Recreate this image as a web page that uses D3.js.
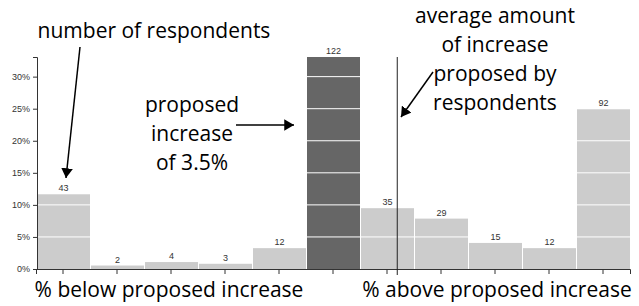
<!DOCTYPE html>
<html>
<head>
<meta charset="utf-8">
<script src="https://cdn.jsdelivr.net/npm/d3@7"></script>
<style>
  body { margin: 0; background: #fff; }
  .note { font-family: "Open Sans", sans-serif; font-size: 21px; fill: #000; }
  .axis text { font-family: "Liberation Sans", Arial, sans-serif; font-size: 9px; fill: #333; }
  .axis path, .axis line { stroke: #333; }
</style>
</head>
<body>
<div id="chart"></div>
<script>
// bins: 5 below the proposed increase, the proposed 3.5%, 5 above it
const bins = ["b5", "b4", "b3", "b2", "b1", "proposed", "a1", "a2", "a3", "a4", "a5"];
const counts = [43, 2, 4, 3, 12, 122, 35, 29, 15, 12, 92];
const yTicks = [0, 0.05, 0.10, 0.15, 0.20, 0.25, 0.30];
const avgBin = 6.69; // average proposed increase, in bin units from the left edge

const total = d3.sum(counts);
const shares = counts.map(c => c / total);

const width = 639, height = 306;
const margin = {left: 36, right: 9, top: 57, bottom: 37};

const svg = d3.select("#chart").append("svg")
    .attr("width", width)
    .attr("height", height);

const x = d3.scaleBand()
    .domain(bins)
    .range([margin.left, width - margin.right]);

const xPos = d3.scaleLinear()
    .domain([0, bins.length])
    .range([margin.left, width - margin.right]);

const y = d3.scaleLinear()
    .domain([0, d3.max(shares)])
    .range([height - margin.bottom, margin.top]);

// bars
svg.append("g")
   .selectAll("rect")
   .data(bins)
   .join("rect")
    .attr("x", d => x(d) + 1)
    .attr("y", (d, i) => y(shares[i]))
    .attr("width", x.bandwidth() - 1)
    .attr("height", (d, i) => y(0) - y(shares[i]))
    .attr("fill", d => d == "proposed" ? "#666" : "#ccc");

// white grid lines through the bars
svg.append("g")
   .selectAll("line")
   .data(yTicks.slice(1))
   .join("line")
    .attr("x1", margin.left)
    .attr("x2", width - margin.right)
    .attr("y1", d => y(d))
    .attr("y2", d => y(d))
    .attr("stroke", "#fff")
    .attr("stroke-width", 1);

// counts on top
svg.append("g")
   .selectAll("text")
   .data(bins)
   .join("text")
    .attr("x", d => x(d) + x.bandwidth() / 2 + 0.5)
    .attr("y", (d, i) => y(shares[i]) - 3)
    .attr("text-anchor", "middle")
    .style("font-family", "Liberation Sans, Arial, sans-serif")
    .style("font-size", "9px")
    .style("fill", "#333")
    .text((d, i) => counts[i]);

// axes
svg.append("g")
    .attr("class", "axis")
    .attr("transform", "translate(" + (margin.left + 1) + ",0)")
    .call(d3.axisLeft(y).tickValues(yTicks).tickFormat(d3.format(".0%")).tickSize(4));

svg.append("g")
    .attr("class", "axis")
    .attr("transform", "translate(0," + (height - margin.bottom) + ")")
    .call(d3.axisBottom(x).tickFormat("").tickSize(5));

// average line
svg.append("line")
    .attr("x1", xPos(avgBin))
    .attr("x2", xPos(avgBin))
    .attr("y1", margin.top)
    .attr("y2", height - margin.bottom + 6)
    .attr("stroke", "#222")
    .attr("stroke-width", 1);

// arrows
svg.append("defs").append("marker")
    .attr("id", "head")
    .attr("viewBox", "0 0 10 12")
    .attr("refX", 10)
    .attr("refY", 6)
    .attr("markerWidth", 6.5)
    .attr("markerHeight", 7.8)
    .attr("markerUnits", "strokeWidth")
    .attr("orient", "auto")
  .append("path")
    .attr("d", "M0,0L10,6L0,12Z")
    .attr("fill", "#000");

const arrows = [
    [80, 47, 66, 178],
    [236, 125, 294, 125],
    [433, 72, 401, 117]
];
svg.append("g")
   .selectAll("line")
   .data(arrows)
   .join("line")
    .attr("x1", d => d[0])
    .attr("y1", d => d[1])
    .attr("x2", d => d[2])
    .attr("y2", d => d[3])
    .attr("stroke", "#000")
    .attr("stroke-width", 1.5)
    .attr("marker-end", "url(#head)");

// annotations
function note(lines, cx, y0, step){
    let t = svg.append("text")
        .attr("class", "note")
        .attr("text-anchor", "middle");
    lines.forEach((l, i) => {
        t.append("tspan").attr("x", cx).attr("y", y0 + i * step).text(l);
    });
}
note(["number of respondents"], 154, 38, 0);
note(["proposed", "increase", "of 3.5%"], 192, 112, 29);
note(["average amount", "of increase", "proposed by", "respondents"], 495, 23, 29);
note(["% below proposed increase"], 169, 297, 0);
note(["% above proposed increase"], 497, 297, 0);
</script>
</body>
</html>
